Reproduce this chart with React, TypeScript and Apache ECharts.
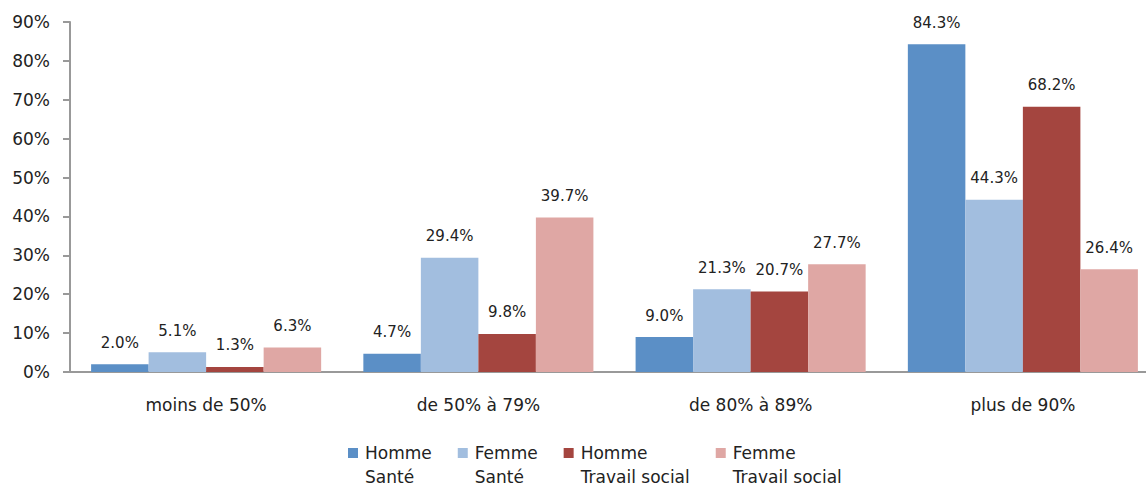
import React, { useEffect, useRef } from "react";
import * as echarts from "echarts";

const categories = ["moins de 50%", "de 50% à 79%", "de 80% à 89%", "plus de 90%"];
const hommeSante = [2.0, 4.7, 9.0, 84.3];
const femmeSante = [5.1, 29.4, 21.3, 44.3];
const hommeTravail = [1.3, 9.8, 20.7, 68.2];
const femmeTravail = [6.3, 39.7, 27.7, 26.4];
const seriesNames = ["Homme Santé", "Femme Santé", "Homme Travail social", "Femme Travail social"];
const colors = ["#5B8FC6", "#A2BEDF", "#A4453F", "#DFA7A4"];

const FONT = "DejaVu Sans";
const TEXT = "#222";

export default function App() {
  const ref = useRef<HTMLDivElement>(null);
  useEffect(() => {
    if (!ref.current) return;
    const chart = echarts.init(ref.current, undefined, { renderer: "svg" });
    const datasets = [hommeSante, femmeSante, hommeTravail, femmeTravail];
    chart.setOption({
      animation: false,
      textStyle: { fontFamily: FONT },
      grid: { left: 70, right: 11, top: 22, bottom: 115 },
      legend: {
        left: 348,
        top: 417,
        padding: 0,
        icon: "rect",
        itemWidth: 10,
        itemHeight: 10,
        itemGap: 26,
        data: seriesNames,
        formatter: (name: string) => {
          const i = name.indexOf(" ");
          return "\n" + name.slice(0, i) + "\n" + name.slice(i + 1);
        },
        textStyle: { fontFamily: FONT, fontSize: 17, color: TEXT, lineHeight: 24, padding: [0, 0, 0, 2] },
      },
      xAxis: {
        type: "category",
        data: categories,
        axisLine: { lineStyle: { color: "#999", width: 2 } },
        axisTick: { show: false },
        axisLabel: { fontFamily: FONT, fontSize: 17, color: TEXT, margin: 24 },
      },
      yAxis: {
        type: "value",
        min: 0,
        max: 90,
        interval: 10,
        splitLine: { show: false },
        axisLine: { show: true, lineStyle: { color: "#999", width: 2 } },
        axisTick: { show: true, length: 7, lineStyle: { color: "#999", width: 2 } },
        axisLabel: { fontFamily: FONT, fontSize: 17, color: TEXT, margin: 20, formatter: "{value}%" },
      },
      series: datasets.map((d, i) => ({
        name: seriesNames[i],
        type: "bar",
        data: d,
        barGap: "0%",
        barCategoryGap: "15.5%",
        itemStyle: { color: colors[i] },
        label: {
          show: true,
          position: "top",
          distance: 14,
          fontFamily: FONT,
          fontSize: 15,
          color: TEXT,
          formatter: (p: any) => p.value.toFixed(1) + "%",
        },
      })),
    });
    return () => chart.dispose();
  }, []);
  return (
    <div style={{ position: "absolute", left: 0, top: 0, width: 1146, height: 487, overflow: "hidden", background: "#fff" }}>
      <div ref={ref} style={{ width: 1170, height: 487 }} />
    </div>
  );
}
